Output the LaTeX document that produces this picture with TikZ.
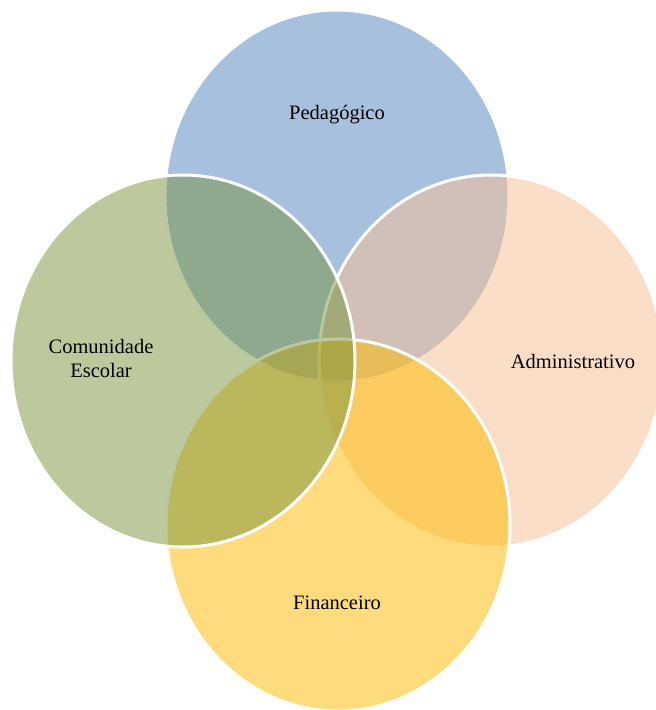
\documentclass[tikz,border=0pt]{standalone}
\usepackage{fontspec}
\setmainfont{Liberation Serif}
\usetikzlibrary{shapes.geometric}
\definecolor{cblue}{HTML}{4F81BD}
\definecolor{cpeach}{HTML}{F7C093}
\definecolor{cyellow}{HTML}{FDBA00}
\definecolor{cgreen}{HTML}{77933C}
\tikzset{
  venn/.style={ellipse, minimum width=344pt, minimum height=372pt, inner sep=0pt,
    draw=white, line width=3pt},
  lbl/.style={font=\fontsize{20.5}{24}\selectfont, text=black, align=center, inner sep=0pt}
}
\begin{document}
\begin{tikzpicture}[x=1pt,y=-1pt]
\useasboundingbox (0,0) rectangle (656,710);
\node[venn, fill=cblue, fill opacity=0.5] (ped) at (337,196) {};
\node[venn, fill=cpeach, fill opacity=0.52] (adm) at (491,361) {};
\node[venn, fill=cyellow, fill opacity=0.51] (fin) at (338,525) {};
\node[venn, fill=cgreen, fill opacity=0.5] (com) at (183,361) {};
\node[lbl] (tped) at (337,115) {Pedagógico};
\node[lbl] (tadm) at (573,361) {Administrativo};
\node[lbl] (tfin) at (337,603) {Financeiro};
\node[lbl] (tcom) at (101,358) {Comunidade\\Escolar};
\end{tikzpicture}
\end{document}
